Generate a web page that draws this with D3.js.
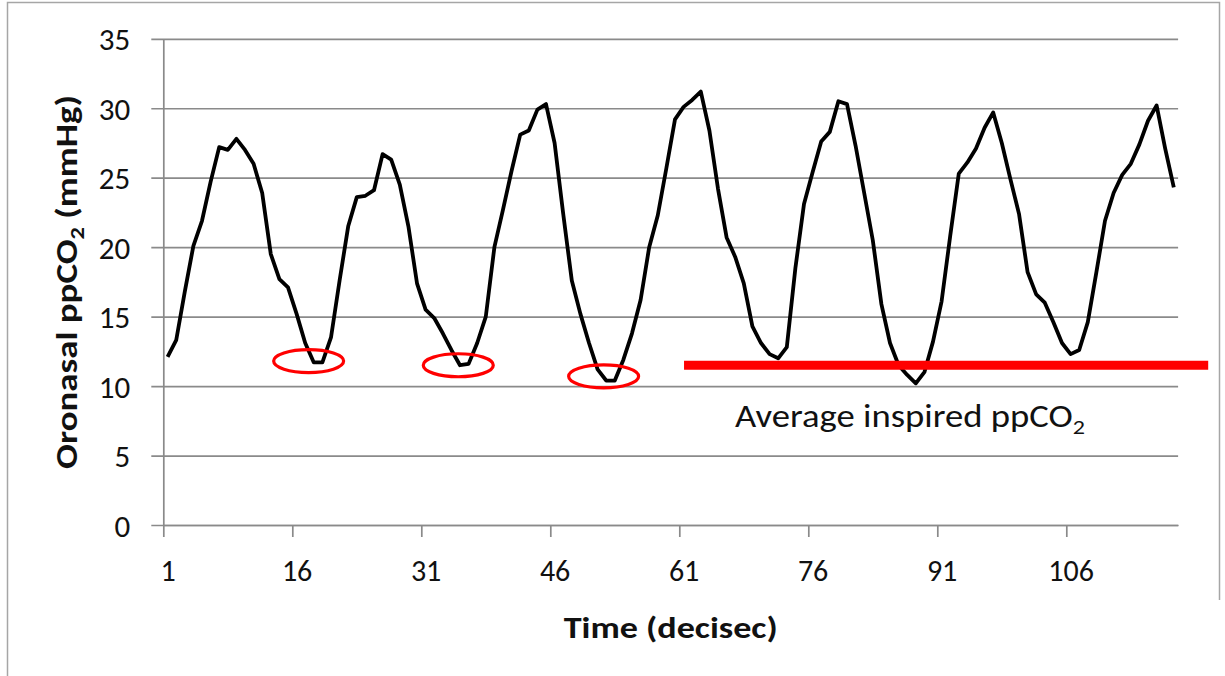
<!DOCTYPE html>
<html>
<head>
<meta charset="utf-8">
<script src="https://cdn.jsdelivr.net/npm/d3@7"></script>
<style>
  body { margin: 0; background: #fff; }
  text { font-family: Carlito, Lato, sans-serif; fill: #111; }
</style>
</head>
<body>
<div id="chart"></div>
<script>
// Oronasal ppCO2 readings, one per decisecond
let time = d3.range(1, 119);
let ppco2 = [
    12.1, 13.3, 16.8, 20.1, 21.9, 24.7, 27.2, 27.0, 27.8, 27.0,
    26.0, 23.9, 19.5, 17.7, 17.1, 15.2, 13.1, 11.7, 11.7, 13.5,
    17.6, 21.5, 23.6, 23.7, 24.1, 26.7, 26.3, 24.5, 21.5, 17.4,
    15.5, 14.9, 13.8, 12.6, 11.5, 11.6, 13.1, 15.0, 20.0, 22.7,
    25.5, 28.1, 28.4, 29.9, 30.3, 27.5, 22.4, 17.6, 15.2, 13.1,
    11.2, 10.4, 10.4, 11.9, 13.8, 16.2, 20.0, 22.3, 25.7, 29.2,
    30.1, 30.6, 31.2, 28.4, 24.2, 20.7, 19.3, 17.4, 14.3, 13.1,
    12.3, 12.0, 12.8, 18.5, 23.1, 25.4, 27.6, 28.3, 30.5, 30.3,
    27.3, 23.9, 20.5, 15.9, 13.1, 11.5, 10.8, 10.2, 11.0, 13.2,
    16.1, 20.8, 25.3, 26.1, 27.1, 28.6, 29.7, 27.5, 24.9, 22.4,
    18.2, 16.6, 16.0, 14.6, 13.1, 12.3, 12.6, 14.6, 18.2, 21.9,
    23.9, 25.2, 26.0, 27.4, 29.1, 30.2, 27.1, 24.3
];
let xTickLabels = [1, 16, 31, 46, 61, 76, 91, 106];
let yTicks = [0, 5, 10, 15, 20, 25, 30, 35];

// circled early minima and the average inspired level
let minimaTime = [17.4, 34.8, 51.7];
let minimaValue = [11.8, 11.5, 10.7];
let avgInspired = 11.5;
let avgSpan = [61.05, 122.0];

let data = time.map(function (t, i) { return { t: t, v: ppco2[i] }; });

let margin = { top: 38.8, left: 163.3 },
    width = 1014.8,
    height = 486.2;

// categories sit between tick marks, like the original spreadsheet chart
let x = d3.scaleLinear().domain([0.5, time.length + 0.5]).range([0, width]);
let y = d3.scaleLinear().domain([0, 35]).range([height, 0]);

let svg = d3.select('#chart')
    .append('svg')
    .attr('width', 1225)
    .attr('height', 676);

// outer frame
svg.append('path')
    .attr('d', 'M7.5,676V2.5H1219.5V600')
    .attr('fill', 'none')
    .attr('stroke', '#a6a6a6')
    .attr('stroke-width', 1.5);

let g = svg.append('g')
    .attr('transform', 'translate(' + margin.left + ',' + margin.top + ')');

// Y gridlines + labels
let yAxis = g.append('g')
    .attr('transform', 'translate(-12,0)')
    .call(d3.axisLeft(y).tickValues(yTicks).tickSize(-(width + 12)).tickPadding(21));
yAxis.select('.domain').remove();
yAxis.selectAll('line').attr('stroke', '#8a8a8a').attr('stroke-width', 1.7);
yAxis.selectAll('text').style('font-size', '31px').attr('dy', '0.36em');

// Y axis line
let yLine = g.append('g').call(d3.axisLeft(y).tickValues([]).tickSizeOuter(0));
yLine.select('.domain').attr('stroke', '#8a8a8a').attr('stroke-width', 1.7);

// X tick marks at category boundaries
let xTicks = g.append('g')
    .attr('transform', 'translate(0,' + height + ')')
    .call(d3.axisBottom(x)
        .tickValues(xTickLabels.map(function (d) { return d - 0.5; }))
        .tickSize(12).tickSizeOuter(0).tickFormat(''));
xTicks.selectAll('line, .domain').attr('stroke', '#8a8a8a').attr('stroke-width', 1.7);

// X labels at category centers
let xLabels = g.append('g')
    .attr('transform', 'translate(0,' + height + ')')
    .call(d3.axisBottom(x).tickValues(xTickLabels).tickSize(0).tickPadding(35));
xLabels.select('.domain').remove();
xLabels.selectAll('text').style('font-size', '30px');

// ppCO2 line
let line = d3.line()
    .x(function (d) { return x(d.t); })
    .y(function (d) { return y(d.v); });

g.append('path')
    .datum(data)
    .attr('fill', 'none')
    .attr('stroke', '#000')
    .attr('stroke-width', 3.8)
    .attr('stroke-linejoin', 'round')
    .attr('d', line);

// red ellipses round the first three minima
g.selectAll('ellipse')
    .data(minimaTime)
    .enter().append('ellipse')
    .attr('cx', function (d) { return x(d); })
    .attr('cy', function (d, i) { return y(minimaValue[i]); })
    .attr('rx', 35)
    .attr('ry', 11.5)
    .attr('fill', 'none')
    .attr('stroke', '#ff0000')
    .attr('stroke-width', 3.2);

// average inspired ppCO2 bar
g.append('line')
    .attr('x1', x(avgSpan[0]))
    .attr('x2', x(avgSpan[1]))
    .attr('y1', y(avgInspired))
    .attr('y2', y(avgInspired))
    .attr('stroke', '#ff0000')
    .attr('stroke-width', 9);

let note = svg.append('text')
    .attr('x', 735)
    .attr('y', 427)
    .attr('textLength', 350)
    .attr('lengthAdjust', 'spacingAndGlyphs')
    .style('font-size', '32px');
note.append('tspan').text('Average inspired ppCO');
note.append('tspan').attr('dy', 7).style('font-size', '21px').text('2');

// axis titles
svg.append('text')
    .attr('x', margin.left + width / 2)
    .attr('y', 638)
    .attr('text-anchor', 'middle')
    .attr('textLength', 214)
    .attr('lengthAdjust', 'spacingAndGlyphs')
    .style('font-size', '31px')
    .style('font-weight', 'bold')
    .text('Time (decisec)');

let yTitle = svg.append('text')
    .attr('transform', 'translate(77,' + (margin.top + height / 2) + ') rotate(-90)')
    .attr('text-anchor', 'middle')
    .attr('textLength', 374)
    .attr('lengthAdjust', 'spacingAndGlyphs')
    .style('font-size', '30px')
    .style('font-weight', 'bold');
yTitle.append('tspan').text('Oronasal ppCO');
yTitle.append('tspan').attr('dy', 7).style('font-size', '20px').text('2');
yTitle.append('tspan').attr('dy', -7).text(' (mmHg)');
</script>
</body>
</html>
